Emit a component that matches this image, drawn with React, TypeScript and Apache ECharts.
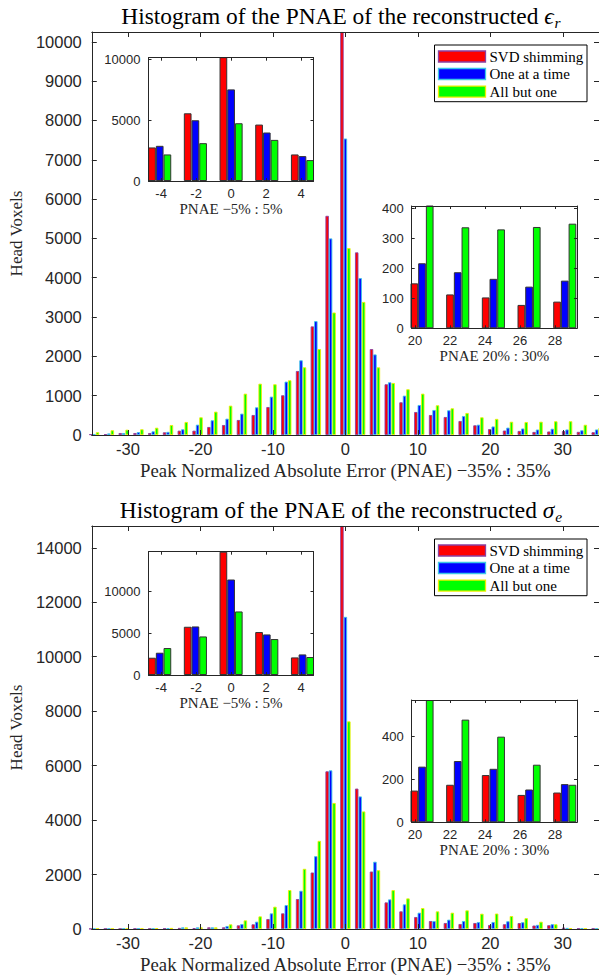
import React, { useEffect, useRef } from "react";
import * as echarts from "echarts";

// ---------------- data ----------------
const seriesNames = ["SVD shimming", "One at a time", "All but one"];

// histogram bin centres (PNAE, %)
const binCenters = [
  -34.68, -32.64, -30.6, -28.56, -26.52, -24.48, -22.44, -20.4, -18.36, -16.32, -14.28,
  -12.24, -10.2, -8.16, -6.12, -4.08, -2.04, 0, 2.04, 4.08, 6.12, 8.16, 10.2, 12.24, 14.28,
  16.32, 18.36, 20.4, 22.44, 24.48, 26.52, 28.56, 30.6, 32.64, 34.68,
];

// Histogram of eps_r
const epsRed = [
  20, 18, 50, 50, 50, 68, 110, 110, 204, 254, 382, 509, 712, 1010, 1628, 2762, 5574,
  10250, 4645, 2186, 1290, 832, 585, 509, 458, 356, 246, 150, 113, 103, 78, 89, 100, 80, 70,
];
const epsBlue = [
  25, 40, 50, 75, 93, 80, 145, 262, 374, 415, 543, 704, 975, 1357, 1900, 2896, 5000,
  7541, 3992, 2049, 1341, 1000, 763, 636, 628, 483, 262, 217, 187, 165, 139, 159, 140, 120, 140,
];
const epsGreen = [
  70, 120, 135, 145, 185, 254, 331, 450, 593, 746, 1051, 1305, 1290, 1392, 1722, 2186, 3115,
  4754, 3385, 1721, 1323, 1163, 1051, 756, 679, 560, 450, 410, 337, 330, 338, 349, 350, 260, 180,
];

// Histogram of sigma_e
const sigRed = [
  10, 10, 10, 15, 15, 20, 40, 30, 61, 61, 134, 171, 366, 574, 1100, 2074, 5791,
  14800, 5156, 2110, 977, 648, 440, 293, 220, 183, 220, 147, 174, 219, 127, 138, 50, 20, 15,
];
const sigBlue = [
  10, 15, 15, 20, 20, 30, 60, 60, 60, 110, 183, 268, 574, 879, 1404, 2674, 5827,
  11463, 4868, 2470, 1087, 905, 598, 293, 342, 293, 256, 258, 284, 248, 152, 177, 40, 25, 20,
];
const sigGreen = [
  15, 15, 20, 20, 25, 40, 60, 60, 60, 171, 317, 464, 818, 1430, 2210, 3237, 4628,
  7626, 4317, 2158, 1428, 1124, 769, 648, 598, 684, 561, 567, 476, 397, 267, 174, 30, 20, 15,
];

const mainXTicks = [-30, -20, -10, 0, 10, 20, 30];
const epsYTicks = [0, 1000, 2000, 3000, 4000, 5000, 6000, 7000, 8000, 9000, 10000];
const sigYTicks = [0, 2000, 4000, 6000, 8000, 10000, 12000, 14000];
const nearXTicks = [-4, -2, 0, 2, 4];
const farXTicks = [20, 22, 24, 26, 28];
const epsNearYTicks = [0, 5000, 10000];
const epsFarYTicks = [0, 100, 200, 300, 400];
const sigNearYTicks = [0, 5000, 10000];
const sigFarYTicks = [0, 200, 400];

const epsYMax = 10250;
const epsNearYMax = 10150;
const sigYMax = 14800;
const epsFarYMax = 408;
const sigFarYMax = 567;

const mainXLabel = "Peak Normalized Absolute Error (PNAE) \u221235% : 35%";
const yLabel = "Head Voxels";
const nearXLabel = "PNAE \u22125% : 5%";
const farXLabel = "PNAE 20% : 30%";

// ---------------- styles / layout ----------------
const fillColors = ["#ff0000", "#0000ff", "#00ff00"];
const edgeColors = ["#8b3fa0", "#3cc6e6", "#eeee00"];
const AXIS = "#262626";
const SANS = "'Liberation Sans', Arial, Helvetica, sans-serif";
const SERIF = "'Liberation Serif', 'Times New Roman', serif";

const L = {
  main: { left: 90, top: 32, width: 510.5, height: 403 },
  near: { left: 148.5, top: 57.7, width: 165, height: 123.3 },
  far: { left: 411.7, top: 206, width: 165.3, height: 122.3 },
  mainX: [-35, 35],
  nearX: [-4.72, 4.71],
  farX: [19.81, 29.26],
  titleX: 341,
  titleY: 16,
  legend: {
    left: 434.5,
    top: 45,
    width: 152.5,
    height: 56.7,
    rows: [56.5, 74, 91.6],
    patchX: 438.5,
    patchW: 47,
    patchH: 11,
    textX: 489.5,
  },
};

const panels = [
  {
    title: "Histogram of the PNAE of the reconstructed ",
    sym: "\u03f5",
    sub: "r",
    values: [epsRed, epsBlue, epsGreen],
    yMax: epsYMax,
    yTicks: epsYTicks,
    nearYMax: epsNearYMax,
    nearYTicks: epsNearYTicks,
    farYMax: epsFarYMax,
    farYTicks: epsFarYTicks,
    dy: 0,
  },
  {
    title: "Histogram of the PNAE of the reconstructed ",
    sym: "\u03c3",
    sub: "e",
    values: [sigRed, sigBlue, sigGreen],
    yMax: sigYMax,
    yTicks: sigYTicks,
    nearYMax: sigYMax,
    nearYTicks: sigNearYTicks,
    farYMax: sigFarYMax,
    farYTicks: sigFarYTicks,
    dy: 494,
  },
];

function buildOption() {
  const grids: any[] = [];
  const xAxes: any[] = [];
  const yAxes: any[] = [];
  const series: any[] = [];
  const graphic: any[] = [];

  const addGrid = (box: any, dy: number, z: number) => {
    grids.push({
      left: box.left,
      top: box.top + dy,
      width: box.width,
      height: box.height,
      containLabel: false,
      show: z > 0,
      backgroundColor: "#ffffff",
      borderWidth: 0,
      z,
    });
    return grids.length - 1;
  };

  const addAxes = (gi: number, o: any) => {
    const lineStyle = { color: AXIS, width: 1 };
    const fmt = (v: number) => String(v);
    const xBase = {
      type: "value",
      gridIndex: gi,
      min: o.xMin,
      max: o.xMax,
      z: o.z,
      axisLine: { show: true, onZero: false, lineStyle },
      axisTick: { show: true, inside: true, length: o.tickLen, customValues: o.xTicks, lineStyle },
      splitLine: { show: false },
    };
    const yBase = {
      type: "value",
      gridIndex: gi,
      min: 0,
      max: o.yMax,
      z: o.z,
      axisLine: { show: true, onZero: false, lineStyle },
      axisTick: { show: true, inside: true, length: o.tickLen, customValues: o.yTicks, lineStyle },
      splitLine: { show: false },
    };
    const xi = xAxes.length;
    xAxes.push({
      ...xBase,
      position: "bottom",
      axisLabel: {
        show: true,
        customValues: o.xTicks,
        formatter: fmt,
        margin: o.xLabelMargin,
        fontSize: o.fontSize,
        fontFamily: SANS,
        color: AXIS,
      },
      name: o.xName,
      nameLocation: "middle",
      nameGap: o.xNameGap,
      nameTextStyle: { fontFamily: SERIF, fontSize: o.xNameSize, color: AXIS },
    });
    xAxes.push({ ...xBase, position: "top", axisLabel: { show: false } });
    const yi = yAxes.length;
    yAxes.push({
      ...yBase,
      position: "left",
      axisLabel: {
        show: true,
        customValues: o.yTicks,
        formatter: fmt,
        margin: o.yLabelMargin,
        fontSize: o.fontSize,
        fontFamily: SANS,
        color: AXIS,
      },
      name: o.yName || "",
      nameLocation: "middle",
      nameGap: o.yNameGap || 0,
      nameTextStyle: { fontFamily: SERIF, fontSize: 17, color: AXIS },
    });
    yAxes.push({ ...yBase, position: "right", axisLabel: { show: false } });
    return { xi, yi };
  };

  const addBars = (
    xi: number,
    yi: number,
    range: number[],
    vals: number[][],
    barWidth: number,
    inset: boolean,
    z: number
  ) => {
    // keep only the bins whose centre lies inside the axis window
    const idx = binCenters
      .map((c, i) => (c >= range[0] && c <= range[1] ? i : -1))
      .filter((i) => i >= 0);
    vals.forEach((arr, k) => {
      series.push({
        type: "bar",
        name: inset ? `${seriesNames[k]} (inset ${xi})` : seriesNames[k],
        xAxisIndex: xi,
        yAxisIndex: yi,
        data: idx.map((i) => [binCenters[i], arr[i]]),
        barWidth,
        barGap: "0%",
        clip: true,
        silent: true,
        z,
        itemStyle: {
          color: fillColors[k],
          borderColor: inset ? "#333333" : edgeColors[k],
          borderWidth: inset ? 1 : 0.9,
        },
      });
    });
  };

  panels.forEach((p) => {
    // main
    const gMain = addGrid(L.main, p.dy, 0);
    const m = addAxes(gMain, {
      xMin: L.mainX[0],
      xMax: L.mainX[1],
      xTicks: mainXTicks,
      yMax: p.yMax,
      yTicks: p.yTicks,
      tickLen: 5,
      fontSize: 16.5,
      xLabelMargin: 5,
      yLabelMargin: 10,
      z: 3,
      xName: mainXLabel,
      xNameGap: 26,
      xNameSize: 18.8,
      yName: yLabel,
      yNameGap: 63,
    });
    addBars(m.xi, m.yi, [-1000, 1000], p.values, 3.45, false, 2);

    // near-zero inset
    const gNear = addGrid(L.near, p.dy, 10);
    const n = addAxes(gNear, {
      xMin: L.nearX[0],
      xMax: L.nearX[1],
      xTicks: nearXTicks,
      yMax: p.nearYMax,
      yTicks: p.nearYTicks,
      tickLen: 3,
      fontSize: 13,
      xLabelMargin: 6,
      yLabelMargin: 8,
      z: 12,
      xName: nearXLabel,
      xNameGap: 20,
      xNameSize: 15,
    });
    addBars(n.xi, n.yi, L.nearX, p.values, 7.7, true, 11);

    // far inset
    const gFar = addGrid(L.far, p.dy, 10);
    const f = addAxes(gFar, {
      xMin: L.farX[0],
      xMax: L.farX[1],
      xTicks: farXTicks,
      yMax: p.farYMax,
      yTicks: p.farYTicks,
      tickLen: 3,
      fontSize: 13,
      xLabelMargin: 6,
      yLabelMargin: 8,
      z: 12,
      xName: farXLabel,
      xNameGap: 20,
      xNameSize: 15,
    });
    addBars(f.xi, f.yi, L.farX, p.values, 7.7, true, 11);

    // title
    graphic.push({
      type: "text",
      x: L.titleX,
      y: L.titleY + p.dy,
      z: 30,
      style: {
        text: `{t|${p.title}}{m|${p.sym}}{s|${p.sub}}`,
        align: "center",
        verticalAlign: "middle",
        fill: "#000",
        rich: {
          t: { fontFamily: SERIF, fontSize: 23.4, lineHeight: 24, verticalAlign: "top", fill: "#000" },
          m: { fontFamily: SERIF, fontStyle: "italic", fontSize: 23.4, lineHeight: 24, verticalAlign: "top", fill: "#000" },
          s: { fontFamily: SERIF, fontStyle: "italic", fontSize: 15.5, lineHeight: 15.5, padding: [10.5, 0, 0, 1], verticalAlign: "top", fill: "#000" },
        },
      },
    });

    // legend
    const lg = L.legend;
    graphic.push({
      type: "rect",
      z: 30,
      shape: { x: lg.left, y: lg.top + p.dy, width: lg.width, height: lg.height },
      style: { fill: "#ffffff", stroke: "#000000", lineWidth: 1 },
    });
    seriesNames.forEach((nm, k) => {
      const cy = lg.rows[k] + p.dy;
      graphic.push({
        type: "rect",
        z: 31,
        shape: { x: lg.patchX, y: cy - lg.patchH / 2, width: lg.patchW, height: lg.patchH },
        style: { fill: fillColors[k], stroke: edgeColors[k], lineWidth: 1.3 },
      });
      graphic.push({
        type: "text",
        z: 31,
        x: lg.textX,
        y: cy,
        style: { text: nm, fontFamily: SERIF, fontSize: 15, fill: "#000", verticalAlign: "middle", align: "left" },
      });
    });
  });

  return {
    animation: false,
    backgroundColor: "#ffffff",
    grid: grids,
    xAxis: xAxes,
    yAxis: yAxes,
    series,
    graphic,
  };
}

export default function App() {
  const ref = useRef<HTMLDivElement>(null);
  useEffect(() => {
    document.body.style.margin = "0";
    const chart = echarts.init(ref.current as HTMLDivElement, null, { renderer: "svg" });
    chart.setOption(buildOption() as any);
    return () => chart.dispose();
  }, []);
  return <div ref={ref} style={{ width: 599, height: 979 }} />;
}
